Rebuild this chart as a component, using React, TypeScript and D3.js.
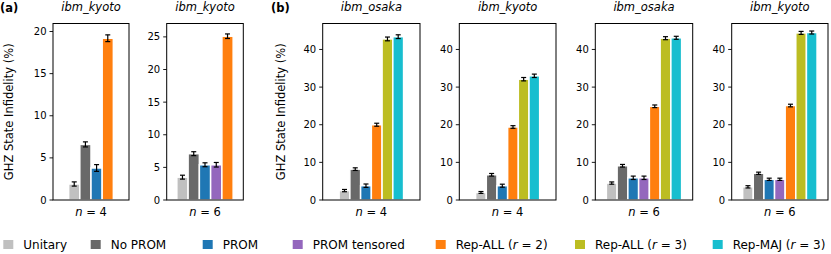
import React from "react";
import * as d3 from "d3";

const seriesNames = ["Unitary", "No PROM", "PROM", "PROM tensored", "Rep-ALL", "Rep-ALL", "Rep-MAJ"];
const seriesR = ["", "", "", "", "2", "3", "3"];
const seriesColors = ["#c0c0c0", "#696969", "#1f77b4", "#9467bd", "#ff7f0e", "#bcbd22", "#17becf"];

const panelTitles = ["ibm_kyoto", "ibm_kyoto", "ibm_osaka", "ibm_kyoto", "ibm_osaka", "ibm_kyoto"];
const panelN = [4, 6, 4, 4, 6, 6];
const panelSeries = [
  [0, 1, 2, 4],
  [0, 1, 2, 3, 4],
  [0, 1, 2, 4, 5, 6],
  [0, 1, 2, 4, 5, 6],
  [0, 1, 2, 3, 4, 5, 6],
  [0, 1, 2, 3, 4, 5, 6],
];
const panelValues = [
  [1.9, 6.6, 3.8, 19.2],
  [3.5, 7.1, 5.4, 5.4, 25.1],
  [2.5, 8.2, 3.8, 20.0, 42.8, 43.4],
  [2.0, 6.7, 3.8, 19.4, 32.1, 33.0],
  [4.5, 9.1, 5.9, 5.9, 24.9, 43.0, 43.1],
  [3.5, 7.1, 5.5, 5.5, 25.1, 44.4, 44.5],
];
const panelErrors = [
  [0.25, 0.3, 0.4, 0.4],
  [0.3, 0.3, 0.3, 0.35, 0.35],
  [0.3, 0.35, 0.45, 0.4, 0.5, 0.5],
  [0.25, 0.35, 0.4, 0.35, 0.45, 0.45],
  [0.3, 0.35, 0.45, 0.45, 0.35, 0.4, 0.4],
  [0.3, 0.3, 0.3, 0.3, 0.35, 0.4, 0.4],
];
const panelYMax = [20.95, 27.05, 46.9, 46.9, 46.9, 46.9];
const panelTicks = [
  [0, 5, 10, 15, 20],
  [0, 5, 10, 15, 20, 25],
  [0, 10, 20, 30, 40],
  [0, 10, 20, 30, 40],
  [0, 10, 20, 30, 40],
  [0, 10, 20, 30, 40],
];

// layout (pixels)
const panelX0 = [53, 166.7, 322.7, 459.3, 595.3, 731.7];
const panelX1 = [129, 243.3, 420, 556, 692.7, 828];
const panelHalf = [3.4, 3.4, 4.53, 4.53, 4.53, 4.53];
const TOP = 23.5;
const BOTTOM = 200;
const FONT = "DejaVu Sans";

const legendTextX = [23.3, 110.7, 222.7, 312.7, 455.7, 595, 732.7];

export default function App() {
  return (
    <svg
      width={831}
      height={254}
      style={{ position: "absolute", left: 0, top: 0, background: "#fff" }}
      fontFamily={FONT}
    >
      <rect x={0} y={0} width={831} height={254} fill="#fff" />
      {panelTitles.map((title, p) => {
        const x = d3.scaleLinear().domain([-panelHalf[p], panelHalf[p]]).range([panelX0[p], panelX1[p]]);
        const y = d3.scaleLinear().domain([0, panelYMax[p]]).range([BOTTOM, TOP]);
        const k = panelSeries[p].length;
        const slot = x(1) - x(0);
        const cx = (panelX0[p] + panelX1[p]) / 2;
        return (
          <g key={p}>
            {panelSeries[p].map((s, i) => {
              const c = x(i - (k - 1) / 2);
              const v = panelValues[p][i];
              return (
                <rect
                  key={i}
                  x={c - slot / 2}
                  y={y(v)}
                  width={slot}
                  height={y(0) - y(v)}
                  fill={seriesColors[s]}
                  stroke="#fff"
                  strokeWidth={1.5}
                />
              );
            })}
            {panelSeries[p].map((s, i) => {
              const c = x(i - (k - 1) / 2);
              const v = panelValues[p][i];
              const e = panelErrors[p][i];
              return (
                <g key={"e" + i} stroke="#000" strokeWidth={1.2}>
                  <line x1={c} x2={c} y1={y(v - e)} y2={y(v + e)} />
                  <line x1={c - 2.5} x2={c + 2.5} y1={y(v - e)} y2={y(v - e)} />
                  <line x1={c - 2.5} x2={c + 2.5} y1={y(v + e)} y2={y(v + e)} />
                </g>
              );
            })}
            <rect
              x={panelX0[p]}
              y={TOP}
              width={panelX1[p] - panelX0[p]}
              height={BOTTOM - TOP}
              fill="none"
              stroke="#000"
              strokeWidth={1}
            />
            {panelTicks[p].map((t) => (
              <g key={"t" + t}>
                <line x1={panelX0[p] - 3.5} x2={panelX0[p]} y1={y(t)} y2={y(t)} stroke="#000" strokeWidth={0.9} />
                <text x={panelX0[p] - 6.5} y={y(t) + 3.6} fontSize={10} textAnchor="end" fill="#000">
                  {t}
                </text>
              </g>
            ))}
            <text x={cx} y={11} fontSize={11.5} fontStyle="oblique" textAnchor="middle" fill="#000">
              {title}
            </text>
            <text x={cx} y={216} fontSize={11.5} textAnchor="middle" fill="#000">
              <tspan fontStyle="oblique">n</tspan>
              <tspan> = {panelN[p]}</tspan>
            </text>
          </g>
        );
      })}
      <text x={0} y={11.5} fontSize={11.5} fontWeight="bold" fill="#000">(a)</text>
      <text x={271} y={11.5} fontSize={11.5} fontWeight="bold" fill="#000">(b)</text>
      <text
        transform={`translate(12.5, ${(TOP + BOTTOM) / 2}) rotate(-90)`}
        fontSize={11.5}
        textAnchor="middle"
        fill="#000"
      >
        GHZ State Infidelity (%)
      </text>
      <text
        transform={`translate(284.5, ${(TOP + BOTTOM) / 2}) rotate(-90)`}
        fontSize={11.5}
        textAnchor="middle"
        fill="#000"
      >
        GHZ State Infidelity (%)
      </text>
      {seriesNames.map((name, i) => (
        <g key={"l" + i}>
          <rect x={legendTextX[i] - 20} y={240} width={10} height={9} fill={seriesColors[i]} />
          <text x={legendTextX[i]} y={248.5} fontSize={12} fill="#000">
            {name}
            {seriesR[i] !== "" && (
              <>
                <tspan> (</tspan>
                <tspan fontStyle="oblique">r</tspan>
                <tspan> = {seriesR[i]})</tspan>
              </>
            )}
          </text>
        </g>
      ))}
    </svg>
  );
}
